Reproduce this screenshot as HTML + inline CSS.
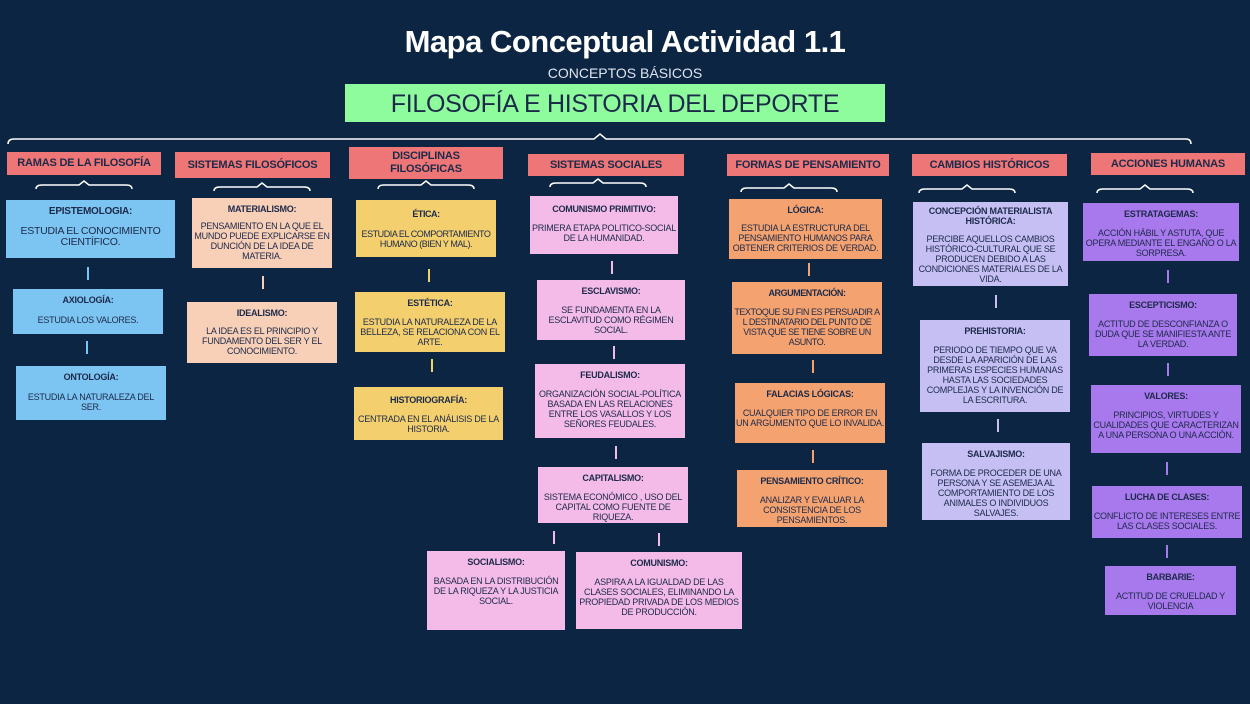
<!DOCTYPE html>
<html><head><meta charset="utf-8"><style>
body{margin:0;width:1250px;height:704px;background:#0c2543;overflow:hidden;position:relative;font-family:"Liberation Sans",sans-serif}
.t{position:absolute;left:0;width:1250px;text-align:center;color:#fff}
.b{position:absolute;box-sizing:border-box;color:#1c2a4a;font-size:9px;line-height:10.5px;text-align:center;overflow:hidden;padding:6px 1px 0;letter-spacing:-0.25px}
.b b{display:block;margin-bottom:9px;font-size:9px}
.h{position:absolute;background:#ee7676;color:#1c2a4a;font-weight:bold;font-size:11px;display:flex;align-items:center;justify-content:center;text-align:center;line-height:13px;letter-spacing:-0.2px}
.bl{background:#7cc4f2}.pe{background:#f8cfb7}.ye{background:#f4cf6e}.pk{background:#f4bbe8}.or{background:#f4a26f}.lv{background:#c6bff4}.pu{background:#a878ed}
.c{position:absolute;width:2px;height:13px}
svg{position:absolute;left:0;top:0}
</style></head><body>
<div class="t" style="top:24px;font-size:31px;font-weight:bold;letter-spacing:-0.5px">Mapa Conceptual Actividad 1.1</div>
<div class="t" style="top:65px;font-size:14px;color:#dfe4ef">CONCEPTOS BÁSICOS</div>
<div style="position:absolute;left:345px;top:84px;width:540px;height:38px;background:#8efb9d;color:#1c2a4a;font-size:25px;text-align:center;line-height:40px;letter-spacing:-0.3px">FILOSOFÍA E HISTORIA DEL DEPORTE</div>
<svg width="1250" height="704" fill="none" stroke="#fff" stroke-width="1.5">
<path d="M8 144 Q8 139 14 139 L594 139 L600 134 L606 139 L1186 139 Q1191 139 1191 144"/>
<g id="br"><path d="M36 189 Q36 185 42 185 L79 185 L84 181 L89 185 L126 185 Q132 185 132 189"/></g>
<use href="#br" x="178" y="2"/><use href="#br" x="342" y="0"/><use href="#br" x="514" y="-2"/>
<use href="#br" x="705" y="3"/><use href="#br" x="883" y="4"/><use href="#br" x="1061" y="4"/>
</svg>
<div class="h" style="left:7px;top:152px;width:154px;height:23px">RAMAS DE LA FILOSOFÍA</div>
<div class="h" style="left:175px;top:152px;width:155px;height:26px">SISTEMAS FILOSÓFICOS</div>
<div class="h" style="left:349px;top:147px;width:154px;height:32px">DISCIPLINAS<br>FILOSÓFICAS</div>
<div class="h" style="left:528px;top:154px;width:156px;height:22px">SISTEMAS SOCIALES</div>
<div class="h" style="left:727px;top:154px;width:162px;height:22px">FORMAS DE PENSAMIENTO</div>
<div class="h" style="left:912px;top:154px;width:155px;height:22px">CAMBIOS HISTÓRICOS</div>
<div class="h" style="left:1091px;top:153px;width:154px;height:22px">ACCIONES HUMANAS</div>

<div class="b bl" style="left:6px;top:200px;width:169px;height:58px;font-size:10.5px;line-height:11px"><b style="font-size:10px">EPISTEMOLOGIA:</b>ESTUDIA EL CONOCIMIENTO CIENTÍFICO.</div>
<div class="b bl" style="left:13px;top:289px;width:150px;height:45px"><b>AXIOLOGÍA:</b>ESTUDIA LOS VALORES.</div>
<div class="b bl" style="left:16px;top:366px;width:150px;height:54px"><b>ONTOLOGÍA:</b>ESTUDIA LA NATURALEZA DEL SER.</div>
<div class="c" style="left:87px;top:267px;background:#7cc4f2"></div>
<div class="c" style="left:86px;top:341px;background:#7cc4f2"></div>

<div class="b pe" style="left:192px;top:198px;width:140px;height:70px;line-height:10px"><b style="margin-bottom:7px">MATERIALISMO:</b>PENSAMIENTO EN LA QUE EL MUNDO PUEDE EXPLICARSE EN DUNCIÓN DE LA IDEA DE MATERIA.</div>
<div class="b pe" style="left:187px;top:302px;width:150px;height:61px;line-height:10px"><b style="margin-bottom:8px">IDEALISMO:</b>LA IDEA ES EL PRINCIPIO Y FUNDAMENTO DEL SER Y EL CONOCIMIENTO.</div>
<div class="c" style="left:262px;top:276px;background:#f8cfb7"></div>

<div class="b ye" style="left:356px;top:200px;width:140px;height:57px;padding-top:9px;letter-spacing:-0.45px"><b>ÉTICA:</b>ESTUDIA EL COMPORTAMIENTO HUMANO (BIEN Y MAL).</div>
<div class="b ye" style="left:355px;top:292px;width:150px;height:60px;line-height:10px"><b>ESTÉTICA:</b>ESTUDIA LA NATURALEZA DE LA BELLEZA, SE RELACIONA CON EL ARTE.</div>
<div class="b ye" style="left:354px;top:387px;width:149px;height:53px;padding-top:8px;line-height:10px"><b>HISTORIOGRAFÍA:</b>CENTRADA EN EL ANÁLISIS DE LA HISTORIA.</div>
<div class="c" style="left:428px;top:269px;background:#f4cf6e"></div>
<div class="c" style="left:431px;top:359px;background:#f4cf6e"></div>

<div class="b pk" style="left:530px;top:196px;width:148px;height:58px;padding-top:8px;line-height:10px"><b>COMUNISMO PRIMITIVO:</b>PRIMERA ETAPA POLITICO-SOCIAL DE LA HUMANIDAD.</div>
<div class="b pk" style="left:537px;top:280px;width:148px;height:60px;line-height:10px"><b>ESCLAVISMO:</b>SE FUNDAMENTA EN LA ESCLAVITUD COMO RÉGIMEN SOCIAL.</div>
<div class="b pk" style="left:535px;top:364px;width:150px;height:74px;line-height:10px"><b>FEUDALISMO:</b>ORGANIZACIÓN SOCIAL-POLÍTICA BASADA EN LAS RELACIONES ENTRE LOS VASALLOS Y LOS SEÑORES FEUDALES.</div>
<div class="b pk" style="left:538px;top:467px;width:150px;height:56px;line-height:10px"><b>CAPITALISMO:</b>SISTEMA ECONÓMICO , USO DEL CAPITAL COMO FUENTE DE RIQUEZA.</div>
<div class="b pk" style="left:427px;top:551px;width:138px;height:79px;line-height:10px"><b>SOCIALISMO:</b>BASADA EN LA DISTRIBUCIÓN DE LA RIQUEZA Y LA JUSTICIA SOCIAL.</div>
<div class="b pk" style="left:576px;top:552px;width:166px;height:77px;line-height:10px"><b>COMUNISMO:</b>ASPIRA A LA IGUALDAD DE LAS CLASES SOCIALES, ELIMINANDO LA PROPIEDAD PRIVADA DE LOS MEDIOS DE PRODUCCIÓN.</div>
<div class="c" style="left:611px;top:261px;background:#f4bbe8"></div>
<div class="c" style="left:613px;top:346px;background:#f4bbe8"></div>
<div class="c" style="left:615px;top:446px;background:#f4bbe8"></div>
<div class="c" style="left:553px;top:531px;background:#f4bbe8"></div>
<div class="c" style="left:658px;top:533px;background:#f4bbe8"></div>

<div class="b or" style="left:729px;top:199px;width:153px;height:60px;line-height:10px"><b style="margin-bottom:8px">LÓGICA:</b>ESTUDIA LA ESTRUCTURA DEL PENSAMIENTO HUMANOS PARA OBTENER CRITERIOS DE VERDAD.</div>
<div class="b or" style="left:732px;top:282px;width:150px;height:72px;line-height:10px;letter-spacing:-0.45px"><b>ARGUMENTACIÓN:</b>TEXTOQUE SU FIN ES PERSUADIR A L DESTINATARIO DEL PUNTO DE VISTA QUE SE TIENE SOBRE UN ASUNTO.</div>
<div class="b or" style="left:735px;top:383px;width:150px;height:60px;line-height:10px"><b>FALACIAS LÓGICAS:</b>CUALQUIER TIPO DE ERROR EN UN ARGUMENTO QUE LO INVALIDA.</div>
<div class="b or" style="left:737px;top:470px;width:150px;height:57px;line-height:10px"><b>PENSAMIENTO CRÍTICO:</b>ANALIZAR Y EVALUAR LA CONSISTENCIA DE LOS PENSAMIENTOS.</div>
<div class="c" style="left:808px;top:263px;background:#f4a26f"></div>
<div class="c" style="left:812px;top:360px;background:#f4a26f"></div>
<div class="c" style="left:812px;top:450px;background:#f4a26f"></div>

<div class="b lv" style="left:913px;top:202px;width:155px;height:84px;padding-top:4px;line-height:10px"><b style="margin-bottom:8px">CONCEPCIÓN MATERIALISTA HISTÓRICA:</b>PERCIBE AQUELLOS CAMBIOS HISTÓRICO-CULTURAL QUE SE PRODUCEN DEBIDO A LAS CONDICIONES MATERIALES DE LA VIDA.</div>
<div class="b lv" style="left:920px;top:320px;width:150px;height:92px;line-height:10px"><b>PREHISTORIA:</b>PERIODO DE TIEMPO QUE VA DESDE LA APARICIÓN DE LAS PRIMERAS ESPECIES HUMANAS HASTA LAS SOCIEDADES COMPLEJAS Y LA INVENCIÓN DE LA ESCRITURA.</div>
<div class="b lv" style="left:922px;top:443px;width:148px;height:77px;line-height:10px"><b>SALVAJISMO:</b>FORMA DE PROCEDER DE UNA PERSONA Y SE ASEMEJA AL COMPORTAMIENTO DE LOS ANIMALES O INDIVIDUOS SALVAJES.</div>
<div class="c" style="left:995px;top:295px;background:#c6bff4"></div>
<div class="c" style="left:997px;top:419px;background:#c6bff4"></div>

<div class="b pu" style="left:1083px;top:203px;width:156px;height:58px;line-height:10px"><b>ESTRATAGEMAS:</b>ACCIÓN HÁBIL Y ASTUTA, QUE OPERA MEDIANTE EL ENGAÑO O LA SORPRESA.</div>
<div class="b pu" style="left:1089px;top:294px;width:148px;height:62px;line-height:10px"><b>ESCEPTICISMO:</b>ACTITUD DE DESCONFIANZA O DUDA QUE SE MANIFIESTA ANTE LA VERDAD.</div>
<div class="b pu" style="left:1091px;top:385px;width:150px;height:68px;line-height:10px"><b>VALORES:</b>PRINCIPIOS, VIRTUDES Y CUALIDADES QUE CARACTERIZAN A UNA PERSONA O UNA ACCIÓN.</div>
<div class="b pu" style="left:1092px;top:486px;width:150px;height:52px;line-height:10px"><b>LUCHA DE CLASES:</b>CONFLICTO DE INTERESES ENTRE LAS CLASES SOCIALES.</div>
<div class="b pu" style="left:1105px;top:566px;width:131px;height:49px;line-height:10px"><b>BARBARIE:</b>ACTITUD DE CRUELDAD Y VIOLENCIA</div>
<div class="c" style="left:1167px;top:270px;background:#a878ed"></div>
<div class="c" style="left:1167px;top:363px;background:#a878ed"></div>
<div class="c" style="left:1166px;top:462px;background:#a878ed"></div>
<div class="c" style="left:1166px;top:545px;background:#a878ed"></div>
</body></html>
